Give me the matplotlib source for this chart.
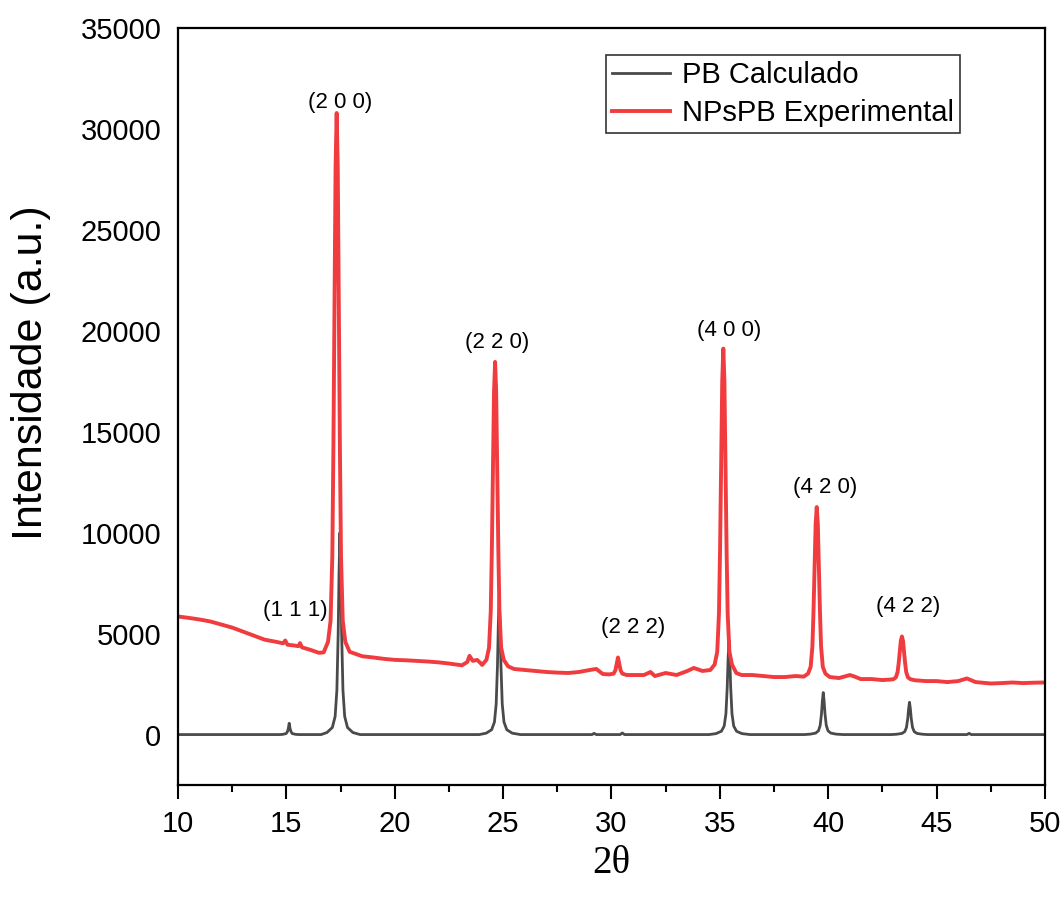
import matplotlib
matplotlib.use('Agg')
import matplotlib.pyplot as plt
from matplotlib.ticker import MultipleLocator

plt.rcParams['font.family'] = ['Liberation Sans', 'DejaVu Sans']

# calculated pattern (PB Calculado)
calc_x = [10.0, 14.7, 14.83, 14.99, 15.05, 15.09, 15.13, 15.17, 15.21, 15.27, 15.43, 15.6,
          16.6, 16.87, 17.12, 17.25, 17.33, 17.39, 17.43, 17.47, 17.51, 17.55, 17.61, 17.69, 17.82, 18.07, 18.4,
          23.9, 24.22, 24.47, 24.60, 24.68, 24.74, 24.78, 24.82, 24.86, 24.90, 24.96, 25.04, 25.17, 25.42, 25.8,
          29.1, 29.2, 29.3, 30.4, 30.5, 30.6,
          34.5, 34.82, 35.07, 35.20, 35.28, 35.34, 35.38, 35.42, 35.46, 35.50, 35.56, 35.64, 35.77, 36.02, 36.4,
          38.9, 39.17, 39.42, 39.55, 39.63, 39.69, 39.73, 39.77, 39.81, 39.85, 39.91, 39.99, 40.12, 40.37, 40.7,
          42.9, 43.15, 43.40, 43.53, 43.61, 43.67, 43.71, 43.75, 43.79, 43.83, 43.89, 43.97, 44.10, 44.35, 44.6,
          46.4, 46.5, 46.6, 50.0]
calc_y = [0, 0, 10, 50, 150, 300, 560, 300, 150, 50, 10, 0,
          0, 100, 350, 900, 2200, 5000, 8000, 10000, 8000, 5000, 2200, 900, 350, 100, 0,
          0, 70, 240, 620, 1510, 3430, 5480, 6850, 5480, 3430, 1510, 620, 240, 70, 0,
          0, 60, 0, 0, 80, 0,
          0, 47, 164, 420, 1030, 2340, 3740, 4680, 3740, 2340, 1030, 420, 164, 47, 0,
          0, 21, 73, 187, 458, 1040, 1664, 2080, 1664, 1040, 458, 187, 73, 21, 0,
          0, 16, 56, 144, 352, 800, 1280, 1600, 1280, 800, 352, 144, 56, 16, 0,
          0, 60, 0, 0]

# experimental pattern (NPsPB Experimental)
exp_x = [10.0, 10.5, 11.0, 11.5, 12.0, 12.5, 13.0, 13.5, 14.0, 14.5,
         14.85, 14.95, 15.05, 15.3, 15.55, 15.63, 15.72, 16.1, 16.5,
         16.72, 16.92, 17.04, 17.12, 17.17, 17.22, 17.27, 17.32, 17.37, 17.42, 17.47, 17.52, 17.60, 17.72, 17.92,
         18.5, 19.0, 19.5, 20.0, 20.5, 21.0, 21.5, 22.0, 22.5, 23.1, 23.35, 23.45, 23.6, 23.8, 23.95,
         24.03, 24.23, 24.35, 24.43, 24.48, 24.53, 24.58, 24.63, 24.68, 24.73, 24.78, 24.83, 24.91, 25.03, 25.23,
         25.5, 26.0, 26.5, 27.0, 27.5, 28.0, 28.5, 29.0, 29.3, 29.6,
         29.9, 30.1, 30.18, 30.24, 30.3, 30.36, 30.42, 30.5, 30.7,
         31.0, 31.5, 31.8, 32.0, 32.5, 33.0, 33.5, 33.8, 34.2,
         34.56, 34.76, 34.88, 34.96, 35.01, 35.06, 35.11, 35.16, 35.21, 35.26, 35.31, 35.36, 35.44, 35.56, 35.76,
         36.0, 36.5, 37.0, 37.5, 38.0, 38.5,
         38.87, 39.07, 39.19, 39.27, 39.32, 39.37, 39.42, 39.47, 39.52, 39.57, 39.62, 39.67, 39.75, 39.87, 40.07,
         40.5, 41.0, 41.2, 41.5, 42.0, 42.5,
         42.8, 43.0, 43.12, 43.2, 43.25, 43.3, 43.35, 43.4, 43.45, 43.5, 43.55, 43.6, 43.68, 43.8, 44.0,
         44.5, 45.0, 45.5, 46.0, 46.4, 46.8, 47.5, 48.0, 48.5, 49.0, 49.5, 50.0]
exp_y = [5850, 5780, 5700, 5600, 5450, 5300, 5100, 4900, 4700, 4600,
         4520, 4660, 4450, 4420, 4380, 4530, 4320, 4200, 4050,
         4070, 4590, 5650, 8860, 14210, 21430, 28120, 30790, 28120, 21430, 14210, 8860, 5650, 4590, 4100,
         3880, 3820, 3750, 3700, 3680, 3650, 3620, 3580, 3520, 3430, 3600, 3900, 3650, 3700, 3550,
         3450, 3700, 4300, 6110, 9120, 13190, 16950, 18460, 16950, 13190, 9120, 6110, 4300, 3700, 3380,
         3250, 3200, 3150, 3100, 3070, 3050, 3100, 3200, 3250, 3000,
         2980, 3020, 3180, 3500, 3820, 3500, 3180, 3020, 2950,
         2950, 2950, 3100, 2900, 3050, 2950, 3150, 3300, 3150,
         3200, 3470, 4110, 6020, 9220, 13530, 17520, 19120, 17520, 13530, 9220, 6020, 4110, 3470, 3050,
         2950, 2950, 2900, 2850, 2850, 2900,
         2870, 3020, 3355, 4366, 6050, 8323, 10428, 11270, 10428, 8323, 6050, 4366, 3355, 3020, 2850,
         2800, 2950, 2880, 2750, 2750, 2700,
         2720, 2740, 2830, 3090, 3520, 4100, 4640, 4860, 4640, 4100, 3520, 3090, 2830, 2740, 2690,
         2650, 2650, 2600, 2650, 2780, 2600, 2530, 2550, 2580, 2550, 2570, 2580]

# Miller index labels
hkl_labels = ['(1 1 1)', '(2 0 0)', '(2 2 0)', '(2 2 2)', '(4 0 0)', '(4 2 0)', '(4 2 2)']
hkl_x = [15.4, 17.47, 24.72, 31.0, 35.42, 39.85, 43.68]
hkl_y = [6150, 31330, 19430, 5300, 20030, 12250, 6350]

fig = plt.figure(figsize=(10.64, 9.01), dpi=100)
ax = fig.add_axes([0.1673, 0.1287, 0.8148, 0.8402])

ax.plot(calc_x, calc_y, color='#4a4a4a', lw=2.0, label='PB Calculado')
ax.plot(exp_x, exp_y, color='#f03c3f', lw=2.8, label='NPsPB Experimental')

for lab, x, y in zip(hkl_labels, hkl_x, hkl_y):
    ax.text(x, y, lab, ha='center', va='center', fontsize=16)

ax.set_xlim(10, 50)
ax.set_ylim(-2500, 35000)
ax.xaxis.set_major_locator(MultipleLocator(5))
ax.xaxis.set_minor_locator(MultipleLocator(2.5))
ax.yaxis.set_major_locator(MultipleLocator(5000))
ax.tick_params(axis='x', which='major', direction='out', length=10, width=1.5, labelsize=21, pad=8)
ax.tick_params(axis='x', which='minor', direction='out', length=5, width=1.5)
ax.tick_params(axis='y', which='both', length=0, labelsize=21, pad=12)
for spine in ax.spines.values():
    spine.set_linewidth(1.6)

ax.set_ylabel('Intensidade (a.u.)', fontsize=31)
ax.yaxis.set_label_coords(-0.146, 0.545)
ax.set_xlabel('2θ', fontsize=28, family=['Liberation Serif', 'DejaVu Serif'], labelpad=5)

leg = ax.legend(loc='upper right', bbox_to_anchor=(0.902, 0.964), fontsize=21,
                frameon=True, fancybox=False, edgecolor='black', handlelength=2.0,
                handletextpad=0.4, borderpad=0.2, labelspacing=0.35, borderaxespad=0)
leg.get_frame().set_linewidth(1.2)

plt.savefig('out.png', dpi=100)
